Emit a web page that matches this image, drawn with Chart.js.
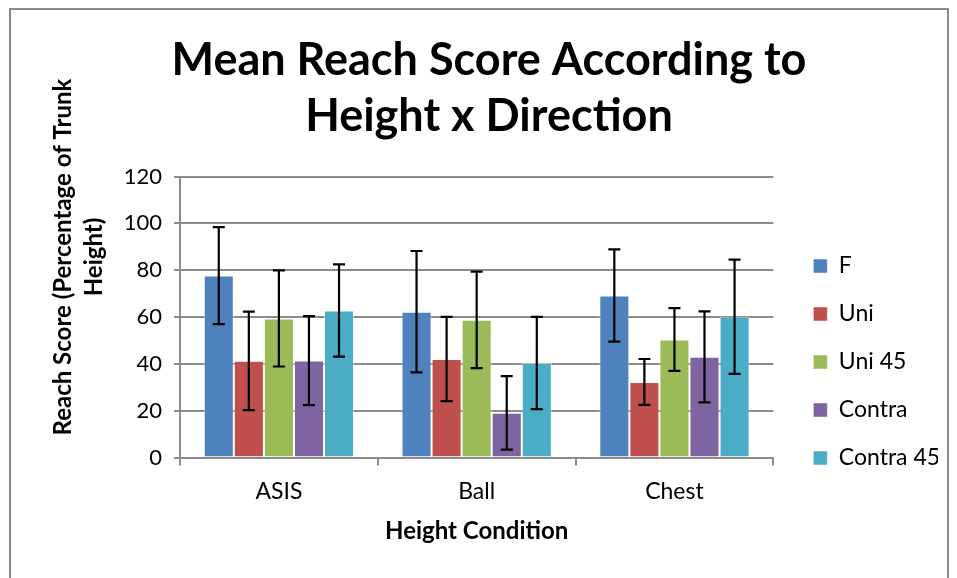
<!DOCTYPE html>
<html>
<head>
<meta charset="utf-8">
<script src="https://cdn.jsdelivr.net/npm/chart.js@4"></script>
<style>
  body { margin: 0; background: #fff; }
  .wrap { position: relative; width: 957px; height: 578px; overflow: hidden; }
  .frame { position: absolute; left: 9px; top: 8px; width: 940px; height: 600px; border: 2px solid #8a8a8a; box-sizing: border-box; }
  canvas { position: absolute; left: 0; top: 0; }
</style>
</head>
<body>
<div class="wrap">
  <div class="frame"></div>
  <canvas id="reachChart" width="957" height="578"></canvas>
</div>
<script>
// 카테고리 / 시리즈 데이터
var categories = ["ASIS", "Ball", "Chest"];
var seriesNames = ["F", "Uni", "Uni 45", "Contra", "Contra 45"];
var fMean = [77.7, 62.3, 69.2];
var uniMean = [41.3, 42.1, 32.3];
var uni45Mean = [59.4, 58.8, 50.4];
var contraMean = [41.4, 19.1, 43.0];
var contra45Mean = [62.8, 40.4, 60.1];
// 오차 막대 (+/-)
var fErr = [20.7, 25.9, 19.7];
var uniErr = [21.0, 18.0, 9.8];
var uni45Err = [20.5, 20.6, 13.4];
var contraErr = [19.0, 15.7, 19.4];
var contra45Err = [19.7, 19.7, 24.4];
var yTicks = [0, 20, 40, 60, 80, 100, 120];

var colors = ["#4F81BD", "#C0504D", "#9BBB59", "#8064A2", "#4BACC6"];
var means = [fMean, uniMean, uni45Mean, contraMean, contra45Mean];
var errs = [fErr, uniErr, uni45Err, contraErr, contra45Err];

var bodyFont = "Lato, 'Open Sans', sans-serif";

// 오차 막대 그리기
var errorBars = {
  id: "errorBars",
  afterDatasetsDraw: function (chart) {
    var ctx = chart.ctx;
    var yScale = chart.scales.y;
    ctx.save();
    ctx.strokeStyle = "#000";
    ctx.lineWidth = 2.2;
    chart.data.datasets.forEach(function (ds, i) {
      var meta = chart.getDatasetMeta(i);
      meta.data.forEach(function (bar, j) {
        var v = ds.data[j];
        var e = ds.errors[j];
        var top = yScale.getPixelForValue(v + e);
        var bot = yScale.getPixelForValue(v - e);
        ctx.beginPath();
        ctx.moveTo(bar.x, top);
        ctx.lineTo(bar.x, bot);
        ctx.moveTo(bar.x - 6, top);
        ctx.lineTo(bar.x + 6, top);
        ctx.moveTo(bar.x - 6, bot);
        ctx.lineTo(bar.x + 6, bot);
        ctx.stroke();
      });
    });
    ctx.restore();
  },
};

// Y축 제목 (두 줄, 회전)
var yTitle = {
  id: "yTitle",
  afterDraw: function (chart) {
    var ctx = chart.ctx;
    ctx.save();
    ctx.fillStyle = "#000";
    ctx.font = "bold 24px " + bodyFont;
    ctx.textAlign = "center";
    ctx.textBaseline = "middle";
    ctx.translate(63, 257);
    ctx.rotate(-Math.PI / 2);
    ctx.fillText("Reach Score (Percentage of Trunk", 0, 0);
    ctx.fillText("Height)", 0, 31);
    ctx.restore();
  },
};

// 범례를 아래로 내림 (엑셀처럼 제목 아래 영역 가운데)
var legendShift = {
  id: "legendShift",
  afterLayout: function (chart) {
    var lg = chart.legend;
    var h = lg.bottom - lg.top;
    lg.top = 362 - h / 2;
    lg.bottom = lg.top + h;
  },
};

var ctx = document.getElementById("reachChart").getContext("2d");

var reachChart = new Chart(ctx, {
  type: "bar",
  data: {
    labels: categories,
    datasets: seriesNames.map(function (name, i) {
      return {
        label: name,
        data: means[i],
        errors: errs[i],
        backgroundColor: colors[i],
        borderColor: "rgba(255,255,255,0.45)",
        borderWidth: 1,
        categoryPercentage: 0.76,
        barPercentage: 1.0,
      };
    }),
  },
  options: {
    responsive: false,
    animation: false,
    layout: {
      padding: { left: 40, right: 19, top: 0, bottom: 28 },
    },
    plugins: {
      title: {
        display: true,
        text: ["Mean Reach Score According to", "Height x Direction"],
        color: "#000",
        font: { family: bodyFont, size: 45, weight: "bold", lineHeight: 1.25 },
        padding: { top: 32, bottom: 32 },
      },
      legend: {
        position: "right",
        labels: {
          color: "#000",
          font: { family: bodyFont, size: 23 },
          boxWidth: 14,
          boxHeight: 14,
          padding: 25,
        },
      },
      tooltip: { enabled: false },
    },
    scales: {
      x: {
        grid: {
          drawOnChartArea: false,
          color: "#8c8c8c",
          lineWidth: 2,
          tickLength: 8,
        },
        border: { color: "#8c8c8c", width: 2 },
        ticks: { color: "#000", font: { family: bodyFont, size: 23 }, padding: 12 },
        title: {
          display: true,
          text: "Height Condition",
          color: "#000",
          font: { family: bodyFont, size: 24, weight: "bold" },
          padding: { top: 0, bottom: 4 },
        },
      },
      y: {
        min: 0,
        max: 120,
        afterBuildTicks: function (scale) {
          scale.ticks = yTicks.map(function (v) { return { value: v }; });
        },
        afterFit: function (scale) {
          scale.width = 140;
        },
        grid: { color: "#8c8c8c", lineWidth: 2, tickLength: 6 },
        border: { color: "#8c8c8c", width: 2 },
        ticks: { color: "#000", font: { family: bodyFont, size: 22 }, padding: 12 },
      },
      // 플롯과 범례 사이 여백용 빈 축
      gap: {
        type: "linear",
        position: "right",
        display: true,
        grid: { display: false },
        border: { display: false },
        ticks: { display: false },
        afterFit: function (scale) {
          scale.width = 15;
        },
      },
    },
  },
  plugins: [errorBars, yTitle, legendShift],
});
</script>
</body>
</html>
